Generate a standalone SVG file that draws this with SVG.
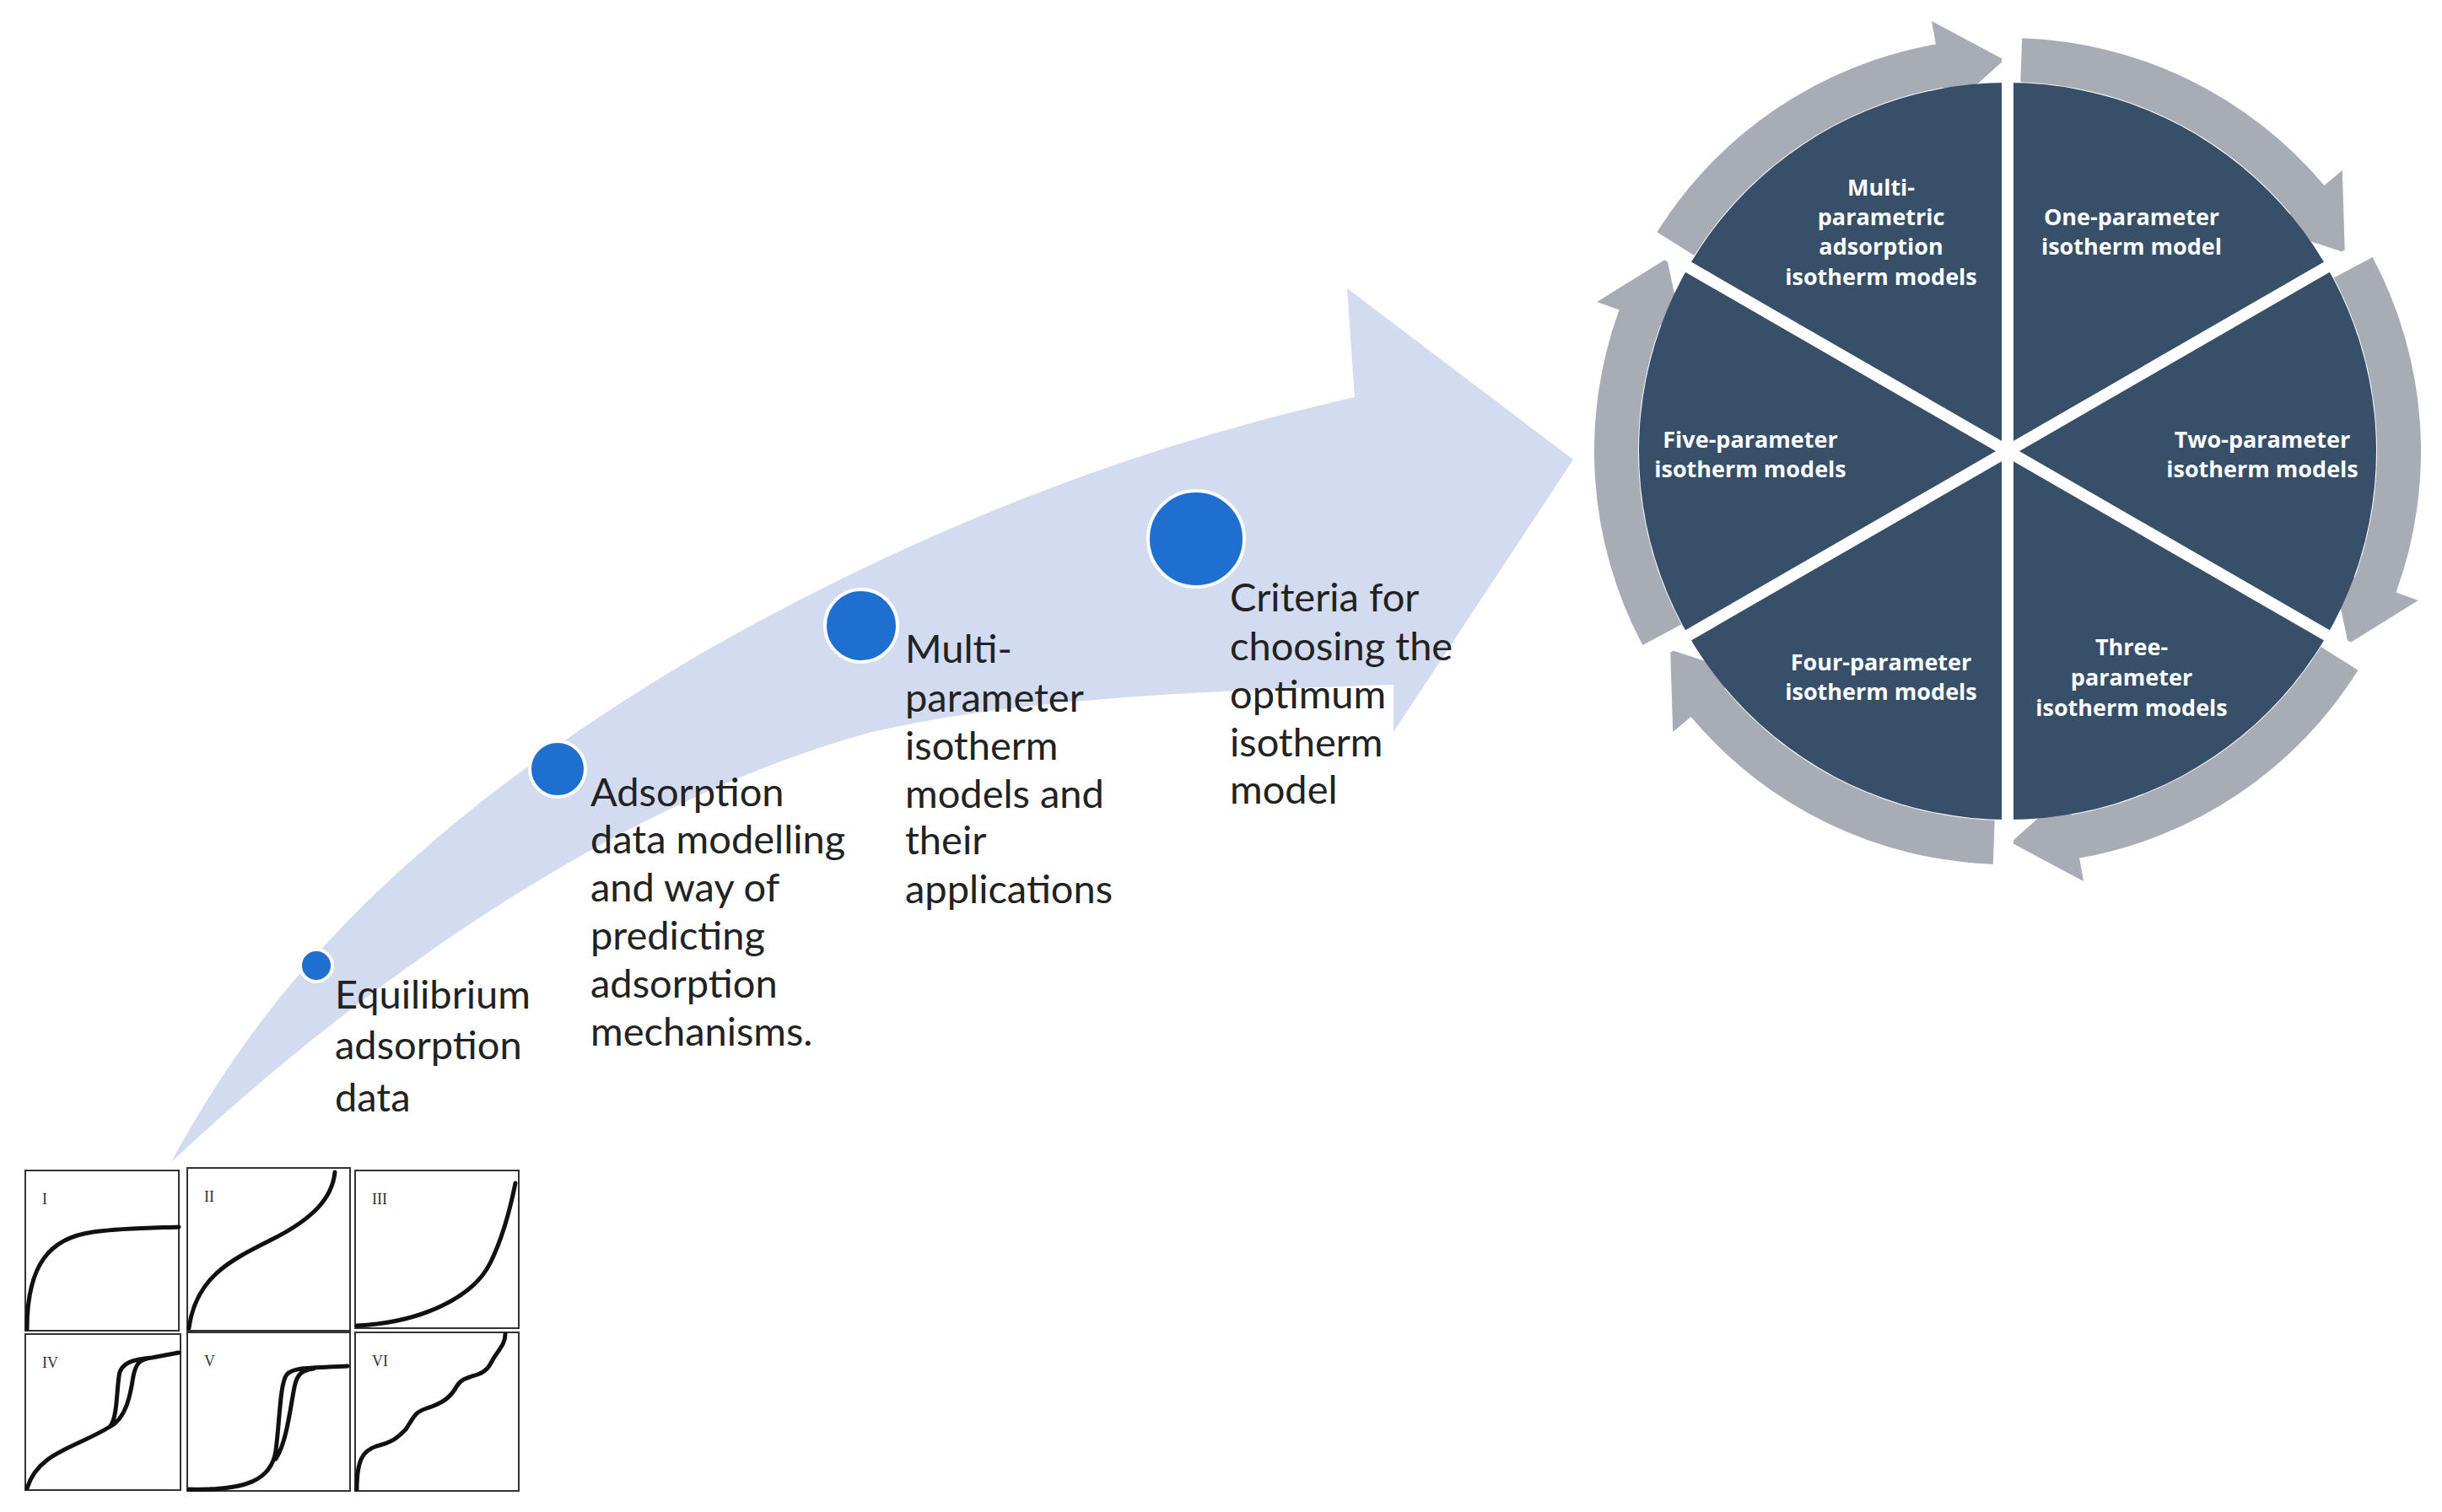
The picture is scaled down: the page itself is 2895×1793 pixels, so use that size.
<svg xmlns="http://www.w3.org/2000/svg" xmlns:xlink="http://www.w3.org/1999/xlink" width="2895" height="1793" viewBox="0 0 2895 1793">
<style>
.st{font-family:Lato,"Open Sans","Liberation Sans",sans-serif;font-size:47px;fill:#222}
.wl{font-family:"Open Sans","Liberation Sans",sans-serif;font-size:27px;font-weight:bold;fill:#fff;text-anchor:middle}
.dot{fill:#1f6fd0;stroke:#fff;stroke-width:4}
.box{fill:#fff;stroke:#333;stroke-width:2}
.cv{fill:none;stroke:#111;stroke-width:5;stroke-linecap:round}
.rn{font-family:"Liberation Serif",serif;font-size:18px;fill:#333}
.ring{fill:#a7acb5}
</style>
<defs>
<path id="seg" class="ring" d="M1964.5,275.3 A490,490 0 0 1 2294.9,52.4 L2290.0,24.9 L2376,71 L2308.8,131.2 L2303.9,103.7 A438,438 0 0 0 2008.6,302.9 Z"/>
</defs>
<g id="bigarrow">
<path fill="#d2dbef" d="M203,1378 C300,1200 450,1000 831,775 C1050,650 1300,540 1606,471 L1597,342 L1865,545 L1652,868 L1652,812 C1400,820 1200,830 1034,868 C800,930 500,1100 203,1378 Z"/>
</g>
<g id="wheel">
<use xlink:href="#seg"/>
<use xlink:href="#seg" transform="rotate(60 2380 535)"/>
<use xlink:href="#seg" transform="rotate(120 2380 535)"/>
<use xlink:href="#seg" transform="rotate(180 2380 535)"/>
<use xlink:href="#seg" transform="rotate(240 2380 535)"/>
<use xlink:href="#seg" transform="rotate(300 2380 535)"/>
<circle cx="2380" cy="535" r="437" fill="#384f69"/>
<g stroke="#fff" stroke-width="14">
<line x1="2380" y1="25" x2="2380" y2="1045"/>
<line x1="1938" y1="790" x2="2822" y2="280"/>
<line x1="1938" y1="280" x2="2822" y2="790"/>
</g>
</g>
<g id="w1"><text class="wl" x="2230" y="232">Multi-</text><text class="wl" x="2230" y="267">parametric</text><text class="wl" x="2230" y="302">adsorption</text><text class="wl" x="2230" y="338">isotherm models</text></g>
<g id="w2"><text class="wl" x="2527" y="267">One-parameter</text><text class="wl" x="2527" y="302">isotherm model</text></g>
<g id="w3"><text class="wl" x="2682" y="531">Two-parameter</text><text class="wl" x="2682" y="566">isotherm models</text></g>
<g id="w4"><text class="wl" x="2527" y="777">Three-</text><text class="wl" x="2527" y="813">parameter</text><text class="wl" x="2527" y="849">isotherm models</text></g>
<g id="w5"><text class="wl" x="2230" y="795">Four-parameter</text><text class="wl" x="2230" y="830">isotherm models</text></g>
<g id="w6"><text class="wl" x="2075" y="531">Five-parameter</text><text class="wl" x="2075" y="566">isotherm models</text></g>
<g id="step1"><circle class="dot" cx="375" cy="1145" r="19"/><text class="st" x="397" y="1196">Equilibrium</text><text class="st" x="397" y="1256">adsorption</text><text class="st" x="397" y="1318">data</text></g>
<g id="step2"><circle class="dot" cx="661" cy="912" r="33"/><text class="st" x="700" y="956">Adsorption</text><text class="st" x="700" y="1012">data modelling</text><text class="st" x="700" y="1069">and way of</text><text class="st" x="700" y="1126">predicting</text><text class="st" x="700" y="1183">adsorption</text><text class="st" x="700" y="1240">mechanisms.</text></g>
<g id="step3"><circle class="dot" cx="1021" cy="742" r="43"/><text class="st" x="1073" y="786">Multi-</text><text class="st" x="1073" y="844">parameter</text><text class="st" x="1073" y="901">isotherm</text><text class="st" x="1073" y="958">models and</text><text class="st" x="1073" y="1013">their</text><text class="st" x="1073" y="1071">applications</text></g>
<g id="step4"><circle class="dot" cx="1418" cy="639" r="57"/><text class="st" x="1458" y="725">Criteria for</text><text class="st" x="1458" y="783">choosing the</text><text class="st" x="1458" y="840">optimum</text><text class="st" x="1458" y="897">isotherm</text><text class="st" x="1458" y="953">model</text></g>
<g id="isoI" transform="translate(30,1388)"><rect class="box" width="182" height="190"/><text class="rn" x="20" y="40">I</text><path class="cv" d="M2,188 C2,110 30,80 80,73 C120,68 160,68 182,67"/></g>
<g id="isoII" transform="translate(222,1385)"><rect class="box" width="193" height="193"/><text class="rn" x="20" y="40">II</text><path class="cv" d="M2,190 C10,130 50,110 100,85 C150,60 172,35 175,5"/></g>
<g id="isoIII" transform="translate(421,1388)"><rect class="box" width="194" height="187"/><text class="rn" x="20" y="40">III</text><path class="cv" d="M2,184 C80,180 140,150 160,110 C175,80 183,50 190,15"/></g>
<g id="isoIV" transform="translate(30,1582)"><rect class="box" width="184" height="185"/><text class="rn" x="20" y="40">IV</text><path class="cv" d="M2,183 C15,140 60,135 100,110 C110,100 108,60 112,45 C116,35 125,30 150,28 L182,22 M100,110 C120,100 125,70 128,50 C131,35 135,30 150,28"/></g>
<g id="isoV" transform="translate(222,1580)"><rect class="box" width="193" height="188"/><text class="rn" x="20" y="40">V</text><path class="cv" d="M2,186 C70,188 100,175 105,140 C110,100 110,60 118,50 C125,42 140,42 190,40 M105,150 C118,130 122,90 127,65 C130,50 135,45 150,43"/></g>
<g id="isoVI" transform="translate(421,1580)"><rect class="box" width="194" height="188"/><text class="rn" x="20" y="40">VI</text><path class="cv" d="M2,186 C2,150 10,140 25,135 C45,130 50,125 60,115 C70,100 70,95 85,90 C100,85 110,80 118,68 C125,55 130,55 145,50 C160,45 160,35 168,25 C175,15 178,10 178,2"/></g>
</svg>
